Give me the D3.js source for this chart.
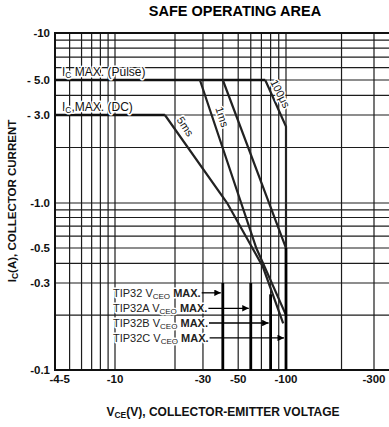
<!DOCTYPE html>
<html>
<head>
<meta charset="utf-8">
<script src="https://cdn.jsdelivr.net/npm/d3@7"></script>
<style>
  body { margin: 0; background: #fff; }
  svg { display: block; font-family: "Liberation Sans", Arial, sans-serif; }
</style>
</head>
<body>
<script>
// the scanned grid is not a clean log grid, so the scales are piecewise log
const xKnots = [4, 10, 20, 100, 300];
const yKnots = [10, 5, 3, 1, 0.5, 0.3, 0.1];

const xGrid = [4, 5, 6, 7, 8, 9, 10, 20, 30, 40, 50, 60, 70, 80, 90, 100, 200, 300];
const yGrid = [10, 9, 8, 7, 6, 5, 4, 3, 2, 1, 0.9, 0.8, 0.7, 0.6, 0.5, 0.4, 0.3, 0.2, 0.1];

const xTicks = [4.3, 10, 30, 50, 100, 300];
const xTickLabels = ["-4-5", "-10", "-30", "-50", "-100", "-300"];
const yTicks = [10, 5, 3, 1, 0.5, 0.3, 0.1];
const yTickLabels = ["-10", "- 5.0", "- 3.0", "-1.0", "-0.5", "-0.3", "-0.1"];

// curves, [volts, amps] (magnitudes)
const icPulse = [[4, 5], [74, 5]];
const icDC = [[4, 3], [17.8, 3]];
const dcSlope = [[17.8, 3], [42.6, 1], [71.5, 0.38], [96, 0.18]];
const ms5 = [[28.7, 5], [65, 0.5], [100, 0.2]];
const ms1 = [[40, 5], [96, 0.56], [100, 0.5]];
const us100 = [[74, 5], [100, 2.6], [100, 0.5]];

// curve labels: text, volts, amps, angle
const curveLabels = [["5ms", 23.2, 2.6, 57], ["1ms", 39.6, 2.93, 72], ["100\u03bcs", 92, 4.1, 63]];

const vceoNames = ["TIP32", "TIP32A", "TIP32B", "TIP32C"];
const vceoVolts = [40, 60, 80, 100];
const vceoTop = [0.3, 0.3, 0.26, 0.5];
const vceoArrowAmps = [0.265, 0.218, 0.181, 0.15];

const W = 389, H = 427;
const x = d3.scaleLog().domain(xKnots).range([55, 115, 175, 286, 374]);
const y = d3.scaleLog().domain(yKnots).range([33, 80, 115, 203, 248, 283, 370]);
const plotL = 55, plotR = W, plotT = 33, plotB = 370;

const svg = d3.select("body").append("svg")
  .attr("width", W).attr("height", H);

svg.append("text")
  .attr("x", 235).attr("y", 16)
  .attr("text-anchor", "middle")
  .attr("font-size", 14.5).attr("font-weight", "bold")
  .text("SAFE OPERATING AREA");

// grid
svg.append("g")
  .selectAll("line")
  .data(xGrid)
  .join("line")
    .attr("x1", d => x(d)).attr("x2", d => x(d))
    .attr("y1", plotT).attr("y2", plotB)
    .attr("stroke", "#1c1c1c").attr("stroke-width", 1.2);

svg.append("g")
  .selectAll("line")
  .data(yGrid)
  .join("line")
    .attr("x1", plotL).attr("x2", plotR)
    .attr("y1", d => y(d)).attr("y2", d => y(d))
    .attr("stroke", "#1c1c1c").attr("stroke-width", 1.2);

// frame
svg.append("path")
  .attr("d", `M${plotR},${plotT}H${plotL}V${plotB}H${plotR}`)
  .attr("fill", "none").attr("stroke", "#111").attr("stroke-width", 2);

const line = d3.line().x(d => x(d[0])).y(d => y(d[1]));

// limits
[icPulse, icDC].forEach(d => {
  svg.append("path").datum(d).attr("d", line)
    .attr("fill", "none").attr("stroke", "#111").attr("stroke-width", 2.6);
});
[dcSlope, ms5, ms1, us100].forEach(d => {
  svg.append("path").datum(d).attr("d", line)
    .attr("fill", "none").attr("stroke", "#222").attr("stroke-width", 2.2);
});

// VCEO max verticals
svg.append("g")
  .selectAll("line")
  .data(vceoVolts)
  .join("line")
    .attr("x1", d => x(d)).attr("x2", d => x(d))
    .attr("y1", (d, i) => y(vceoTop[i])).attr("y2", plotB)
    .attr("stroke", "#000").attr("stroke-width", 2.8);

// labels sit on white, like the scan
function halo(sel) {
  return sel.attr("stroke", "#fff").attr("stroke-width", 3)
    .attr("paint-order", "stroke").attr("stroke-linejoin", "round");
}

function icLabel(yv, rest) {
  const t = svg.append("text")
    .attr("x", 62).attr("y", y(yv) - 4)
    .attr("font-size", 12).attr("fill", "#111");
  halo(t);
  t.append("tspan").text("I");
  t.append("tspan").attr("font-size", 8.5).attr("dy", 2).text("C");
  t.append("tspan").attr("dy", -2).text(rest);
}
icLabel(5, " MAX. (Pulse)");
icLabel(3, ",MAX. (DC)");

svg.append("g")
  .selectAll("text")
  .data(curveLabels)
  .join("text")
    .attr("transform", d => `translate(${x(d[1])},${y(d[2])}) rotate(${d[3]})`)
    .attr("text-anchor", "middle").attr("dy", "0.35em")
    .attr("font-size", 11).attr("fill", "#111")
    .call(halo)
    .text(d => d[0]);

// VCEO labels with arrows
svg.append("defs").append("marker")
  .attr("id", "arr").attr("viewBox", "0 0 10 10")
  .attr("refX", 10).attr("refY", 5)
  .attr("markerWidth", 7).attr("markerHeight", 5)
  .attr("orient", "auto")
  .append("path").attr("d", "M0,0L10,5L0,10z").attr("fill", "#000");

vceoNames.forEach((n, i) => {
  const yy = y(vceoArrowAmps[i]);
  const t = svg.append("text")
    .attr("x", 113).attr("y", yy + 4)
    .attr("font-size", 11).attr("fill", "#222");
  halo(t);
  t.append("tspan").text(n + " V");
  t.append("tspan").attr("font-size", 8).attr("dy", 2).text("CEO");
  t.append("tspan").attr("dy", -2).attr("font-weight", "bold").text(" MAX.");
  const end = 113 + t.node().getComputedTextLength() + 1;
  svg.append("line")
    .attr("x1", end).attr("x2", x(vceoVolts[i]) - 2)
    .attr("y1", yy).attr("y2", yy)
    .attr("stroke", "#000").attr("stroke-width", 1.3)
    .attr("marker-end", "url(#arr)");
});

// tick labels
svg.append("g")
  .selectAll("text")
  .data(yTicks)
  .join("text")
    .attr("x", 50).attr("y", d => y(d))
    .attr("dy", "0.35em").attr("text-anchor", "end")
    .attr("font-size", 11.5).attr("font-weight", "bold").attr("fill", "#111")
    .text((d, i) => yTickLabels[i]);

svg.append("g")
  .selectAll("text")
  .data(xTicks)
  .join("text")
    .attr("x", d => x(d)).attr("y", 383)
    .attr("text-anchor", "middle")
    .attr("font-size", 11.5).attr("font-weight", "bold").attr("fill", "#111")
    .text((d, i) => xTickLabels[i]);

// axis titles
const xt = svg.append("text")
  .attr("x", 223).attr("y", 416)
  .attr("text-anchor", "middle")
  .attr("font-size", 12).attr("font-weight", "bold").attr("fill", "#111");
xt.append("tspan").text("V");
xt.append("tspan").attr("font-size", 8.5).attr("dy", 2).text("CE");
xt.append("tspan").attr("dy", -2).text("(V), COLLECTOR-EMITTER VOLTAGE");

const yt = svg.append("text")
  .attr("transform", "translate(16,201) rotate(-90)")
  .attr("text-anchor", "middle")
  .attr("font-size", 11.5).attr("font-weight", "bold").attr("fill", "#111");
yt.append("tspan").text("I");
yt.append("tspan").attr("font-size", 8.5).attr("dy", 2).text("C");
yt.append("tspan").attr("dy", -2).text("(A), COLLECTOR CURRENT");
</script>
</body>
</html>
